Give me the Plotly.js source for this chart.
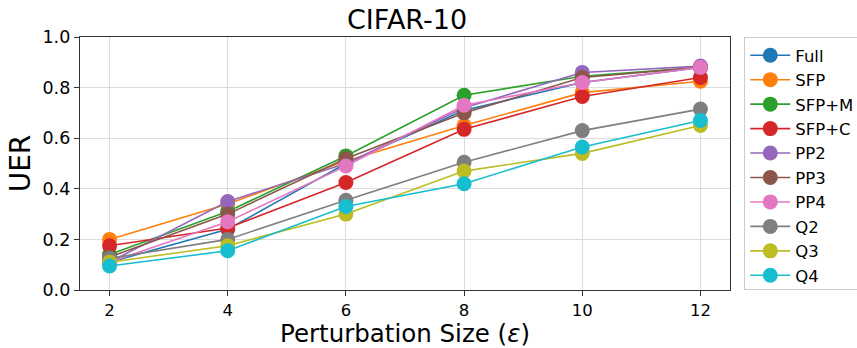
<!DOCTYPE html>
<html>
<head>
<meta charset="utf-8">
<script src="https://cdn.plot.ly/plotly-3.0.1.min.js"></script>
<style>html,body{margin:0;padding:0;background:#fff;}#chart{width:857px;height:348px;}</style>
</head>
<body>
<div id="chart"></div>
<script>
const eps = [2, 4, 6, 8, 10, 12];
const seriesNames = ["Full", "SFP", "SFP+M", "SFP+C", "PP2", "PP3", "PP4", "Q2", "Q3", "Q4"];
const full  = [0.11, 0.24, 0.50, 0.71, 0.82, 0.88];
const sfp   = [0.20, 0.34, 0.51, 0.65, 0.78, 0.825];
const sfpM  = [0.14, 0.31, 0.53, 0.77, 0.845, 0.88];
const sfpC  = [0.175, 0.245, 0.425, 0.635, 0.765, 0.84];
const pp2   = [0.11, 0.35, 0.50, 0.72, 0.86, 0.885];
const pp3   = [0.13, 0.30, 0.52, 0.70, 0.84, 0.88];
const pp4   = [0.11, 0.27, 0.49, 0.73, 0.82, 0.88];
const q2    = [0.125, 0.20, 0.355, 0.505, 0.63, 0.715];
const q3    = [0.11, 0.175, 0.30, 0.47, 0.54, 0.65];
const q4    = [0.095, 0.155, 0.33, 0.42, 0.565, 0.67];
const allSeries = [full, sfp, sfpM, sfpC, pp2, pp3, pp4, q2, q3, q4];
const colors = ["#1f77b4", "#ff7f0e", "#2ca02c", "#d62728", "#9467bd", "#8c564b", "#e377c2", "#7f7f7f", "#bcbd22", "#17becf"];

const traces = allSeries.map((ys, i) => ({
  x: eps, y: ys, name: seriesNames[i], type: "scatter", mode: "lines+markers",
  line: {color: colors[i], width: 1.6},
  marker: {color: colors[i], size: 15}
}));

const layout = {
  width: 857, height: 348,
  margin: {l: 80, r: 127, t: 37, b: 58, autoexpand: false},
  paper_bgcolor: "#fff", plot_bgcolor: "#fff",
  font: {family: "DejaVu Sans", color: "#000"},
  title: {text: "CIFAR-10", font: {size: 27, family: "DejaVu Sans"}, x: 0.475, xanchor: "center", y: 0.945, yanchor: "middle"},
  xaxis: {
    range: [1.5, 12.5], tickvals: eps, ticktext: eps.map(String),
    showgrid: true, gridcolor: "#dcdcdc", gridwidth: 1,
    showline: true, linecolor: "#333", linewidth: 1.2, mirror: true,
    ticks: "outside", ticklen: 5, tickcolor: "#333",
    tickfont: {size: 16.5}, zeroline: false,
    title: {text: "Perturbation Size (<i>ε</i>)", font: {size: 24.5}, standoff: 11}
  },
  yaxis: {
    range: [0, 1.0], tickvals: [0, 0.2, 0.4, 0.6, 0.8, 1.0], ticktext: ["0.0", "0.2", "0.4", "0.6", "0.8", "1.0"],
    showgrid: true, gridcolor: "#dcdcdc", gridwidth: 1,
    showline: true, linecolor: "#333", linewidth: 1.2, mirror: true,
    ticks: "outside", ticklen: 5, tickcolor: "#333",
    tickfont: {size: 17.5}, zeroline: false,
    title: {text: "UER", font: {size: 28}, standoff: 3}
  },
  legend: {
    x: 1.022, y: 1.0, xanchor: "left", yanchor: "top",
    bordercolor: "#cccccc", borderwidth: 1, bgcolor: "#fff",
    font: {size: 16.5, family: "DejaVu Sans"}, tracegroupgap: 0, itemwidth: 40
  },
  showlegend: true
};

Plotly.newPlot("chart", traces, layout, {displayModeBar: false, staticPlot: true});
</script>
</body>
</html>
